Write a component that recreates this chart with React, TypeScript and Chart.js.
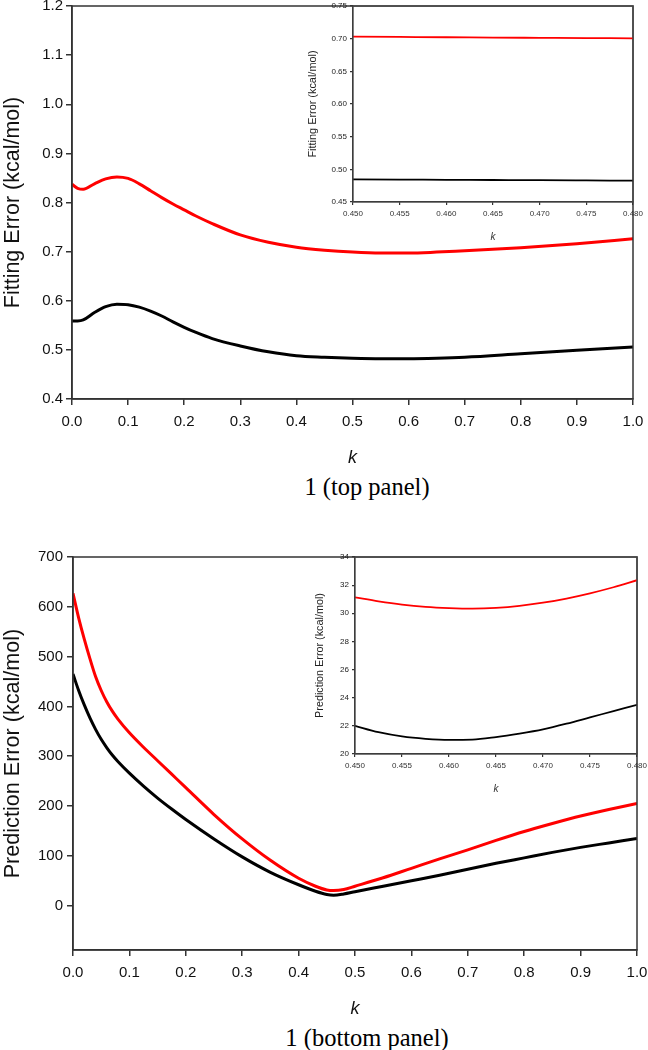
import React, { useEffect, useRef } from "react";
import { Chart, registerables } from "chart.js";

Chart.register(...registerables);

// ---------- DATA ----------
// Top panel (fitting error, kcal/mol)
const K_TOP = [0, 0.01, 0.02, 0.04, 0.06, 0.08, 0.1, 0.12, 0.14, 0.16, 0.18, 0.2, 0.22, 0.25, 0.3, 0.35, 0.4, 0.45, 0.5, 0.55, 0.6, 0.65, 0.7, 0.8, 0.9, 1.0];
const FIT_RED = [0.837, 0.829, 0.827, 0.838, 0.848, 0.852, 0.849, 0.838, 0.824, 0.81, 0.797, 0.785, 0.773, 0.757, 0.734, 0.719, 0.709, 0.703, 0.699, 0.697, 0.697, 0.699, 0.702, 0.708, 0.716, 0.726];
const FIT_BLACK = [0.559, 0.559, 0.561, 0.576, 0.588, 0.593, 0.592, 0.587, 0.579, 0.569, 0.557, 0.546, 0.536, 0.523, 0.508, 0.496, 0.488, 0.485, 0.483, 0.482, 0.482, 0.483, 0.485, 0.492, 0.499, 0.506];

// Top inset
const K_TOP_INSET = [0.45, 0.455, 0.46, 0.465, 0.47, 0.475, 0.48];
const FIT_RED_INSET = [0.703, 0.7026, 0.7022, 0.7017, 0.7013, 0.7009, 0.7005];
const FIT_BLACK_INSET = [0.4846, 0.4843, 0.484, 0.4837, 0.4834, 0.483, 0.4826];

// Bottom panel (prediction error, kcal/mol)
const K_BOT = [0, 0.01, 0.02, 0.03, 0.04, 0.05, 0.06, 0.07, 0.08, 0.1, 0.125, 0.15, 0.175, 0.2, 0.25, 0.3, 0.35, 0.4, 0.43, 0.45, 0.462, 0.48, 0.5, 0.55, 0.6, 0.65, 0.7, 0.75, 0.8, 0.85, 0.9, 0.95, 1.0];
const PRED_RED = [627, 578, 535, 496, 460, 432, 409, 390, 374, 347, 318, 291, 264, 237, 183, 134, 91, 55, 39, 31.5, 30.3, 32.4, 39, 56, 75, 94, 112, 131, 149, 165, 180, 193, 205];
const PRED_BLACK = [465, 432, 403, 377, 354, 334, 317, 302, 289, 266, 240, 216, 194, 173, 134, 98, 67, 42, 29, 22.5, 21, 23.5, 28, 39, 50, 61, 73, 85, 96, 107, 117, 126, 135];

// Bottom inset
const K_BOT_INSET = [0.45, 0.4525, 0.455, 0.4575, 0.46, 0.4625, 0.465, 0.4675, 0.47, 0.4725, 0.475, 0.4775, 0.48];
const PRED_RED_INSET = [31.13, 30.85, 30.62, 30.46, 30.37, 30.33, 30.38, 30.52, 30.75, 31.05, 31.42, 31.85, 32.35];
const PRED_BLACK_INSET = [22.0, 21.55, 21.25, 21.08, 21.0, 21.02, 21.2, 21.45, 21.75, 22.15, 22.6, 23.05, 23.5];

// Tick values
const X_TICKS_MAIN = [0, 0.1, 0.2, 0.3, 0.4, 0.5, 0.6, 0.7, 0.8, 0.9, 1.0];
const Y_TICKS_TOP = [0.4, 0.5, 0.6, 0.7, 0.8, 0.9, 1.0, 1.1, 1.2];
const X_TICKS_INSET = [0.45, 0.455, 0.46, 0.465, 0.47, 0.475, 0.48];
const Y_TICKS_TOP_INSET = [0.45, 0.5, 0.55, 0.6, 0.65, 0.7, 0.75];
const Y_TICKS_BOT = [0, 100, 200, 300, 400, 500, 600, 700];
const Y_TICKS_BOT_INSET = [20, 22, 24, 26, 28, 30, 32, 34];

// ---------- helpers ----------
const SANS = "'Liberation Sans', Arial, Helvetica, sans-serif";
const SERIF = "'Liberation Serif', 'Times New Roman', serif";

const framePlugin = {
  id: "frame",
  afterDatasetsDraw(chart: any, _args: any, opts: any) {
    const { ctx, chartArea: a } = chart;
    ctx.save();
    ctx.strokeStyle = opts.color || "#333";
    ctx.lineWidth = opts.width || 1.5;
    ctx.strokeRect(a.left, a.top, a.right - a.left, a.bottom - a.top);
    ctx.restore();
  },
};

const toPts = (xs: number[], ys: number[]) => xs.map((x, i) => ({ x, y: ys[i] }));

type AxisOpts = {
  min: number;
  max: number;
  ticks: number[];
  fmt: (v: number) => string;
  fontSize: number;
  tickLen: number;
  pad: number;
  title: string;
  titleSize: number;
  italic?: boolean;
  size: number;
  color: string;
  lineW: number;
};

function makeAxis(o: AxisOpts, horizontal: boolean) {
  return {
    type: "linear",
    min: o.min,
    max: o.max,
    afterBuildTicks: (s: any) => {
      s.ticks = o.ticks.map((v) => ({ value: v }));
    },
    afterFit: (s: any) => {
      if (horizontal) s.height = o.size;
      else s.width = o.size;
    },
    ticks: {
      callback: (v: any) => o.fmt(Number(v)),
      font: { family: SANS, size: o.fontSize },
      color: o.color,
      padding: o.pad,
      maxRotation: 0,
      minRotation: 0,
      autoSkip: false,
    },
    grid: {
      display: true,
      drawOnChartArea: false,
      drawTicks: true,
      tickLength: o.tickLen,
      color: "#333",
      lineWidth: o.lineW,
    },
    border: { display: true, color: "#333", width: o.lineW },
    title: {
      display: true,
      text: o.title,
      font: { family: SANS, size: o.titleSize, style: o.italic ? "italic" : "normal" },
      color: o.color,
      padding: 0,
    },
  };
}

function ChartBox(props: { left: number; top: number; width: number; height: number; config: () => any }) {
  const ref = useRef<HTMLCanvasElement | null>(null);
  useEffect(() => {
    if (!ref.current) return;
    const chart = new Chart(ref.current, props.config());
    return () => chart.destroy();
  }, []);
  return (
    <canvas
      ref={ref}
      width={props.width}
      height={props.height}
      style={{
        position: "absolute",
        left: props.left,
        top: props.top,
        width: props.width,
        height: props.height,
      }}
    />
  );
}

function lineConfig(opts: {
  red: { x: number; y: number }[];
  black: { x: number; y: number }[];
  lw: number;
  x: any;
  y: any;
  padding: any;
  frameColor: string;
  frameWidth: number;
}) {
  return {
    type: "line",
    data: {
      datasets: [
        {
          data: opts.black,
          borderColor: "#000000",
          borderWidth: opts.lw,
          pointRadius: 0,
          cubicInterpolationMode: "monotone",
          fill: false,
        },
        {
          data: opts.red,
          borderColor: "#ff0000",
          borderWidth: opts.lw,
          pointRadius: 0,
          cubicInterpolationMode: "monotone",
          fill: false,
        },
      ],
    },
    options: {
      responsive: false,
      animation: false,
      devicePixelRatio: 1,
      layout: { padding: opts.padding },
      plugins: {
        legend: { display: false },
        tooltip: { enabled: false },
        frame: { color: opts.frameColor, width: opts.frameWidth },
      },
      scales: { x: opts.x, y: opts.y },
    },
    plugins: [framePlugin],
  };
}

const fmt1 = (v: number) => v.toFixed(1);
const fmt2 = (v: number) => v.toFixed(2);
const fmt3 = (v: number) => v.toFixed(3);
const fmt0 = (v: number) => v.toFixed(0);

export default function App() {
  const topMain = () =>
    lineConfig({
      red: toPts(K_TOP, FIT_RED),
      black: toPts(K_TOP, FIT_BLACK),
      lw: 3,
      padding: { left: 0, top: 18, right: 37, bottom: 0 },
      frameColor: "#333",
      frameWidth: 1.5,
      x: makeAxis(
        { min: 0, max: 1, ticks: X_TICKS_MAIN, fmt: fmt1, fontSize: 15, tickLen: 6, pad: 8, title: "k", titleSize: 18, italic: true, size: 70, color: "#111", lineW: 1.5 },
        true
      ),
      y: makeAxis(
        { min: 0.4, max: 1.2, ticks: Y_TICKS_TOP, fmt: fmt1, fontSize: 15, tickLen: 6, pad: 3, title: "Fitting Error (kcal/mol)", titleSize: 21.5, size: 72, color: "#111", lineW: 1.5 },
        false
      ),
    });

  const topInset = () =>
    lineConfig({
      red: toPts(K_TOP_INSET, FIT_RED_INSET),
      black: toPts(K_TOP_INSET, FIT_BLACK_INSET),
      lw: 1.8,
      padding: { left: 6, top: 16, right: 37, bottom: 0 },
      frameColor: "#444",
      frameWidth: 1.2,
      x: makeAxis(
        { min: 0.45, max: 0.48, ticks: X_TICKS_INSET, fmt: fmt3, fontSize: 8, tickLen: 3, pad: 3.5, title: "k", titleSize: 10, italic: true, size: 41, color: "#333", lineW: 1.2 },
        true
      ),
      y: makeAxis(
        { min: 0.45, max: 0.75, ticks: Y_TICKS_TOP_INSET, fmt: fmt2, fontSize: 8, tickLen: 3, pad: 3, title: "Fitting Error (kcal/mol)", titleSize: 10.9, size: 47, color: "#222", lineW: 1.2 },
        false
      ),
    });

  const botMain = () =>
    lineConfig({
      red: toPts(K_BOT, PRED_RED),
      black: toPts(K_BOT, PRED_BLACK),
      lw: 3,
      padding: { left: 0, top: 17, right: 33, bottom: 0 },
      frameColor: "#333",
      frameWidth: 1.5,
      x: makeAxis(
        { min: 0, max: 1, ticks: X_TICKS_MAIN, fmt: fmt1, fontSize: 15, tickLen: 6, pad: 8, title: "k", titleSize: 18, italic: true, size: 70, color: "#111", lineW: 1.5 },
        true
      ),
      y: makeAxis(
        { min: -89, max: 700, ticks: Y_TICKS_BOT, fmt: fmt0, fontSize: 15, tickLen: 6, pad: 4, title: "Prediction Error (kcal/mol)", titleSize: 21.6, size: 73, color: "#111", lineW: 1.5 },
        false
      ),
    });

  const botInset = () =>
    lineConfig({
      red: toPts(K_BOT_INSET, PRED_RED_INSET),
      black: toPts(K_BOT_INSET, PRED_BLACK_INSET),
      lw: 1.8,
      padding: { left: 14, top: 17, right: 33, bottom: 0 },
      frameColor: "#444",
      frameWidth: 1.2,
      x: makeAxis(
        { min: 0.45, max: 0.48, ticks: X_TICKS_INSET, fmt: fmt3, fontSize: 8, tickLen: 3, pad: 3.5, title: "k", titleSize: 10, italic: true, size: 41, color: "#333", lineW: 1.2 },
        true
      ),
      y: makeAxis(
        { min: 20, max: 34, ticks: Y_TICKS_BOT_INSET, fmt: fmt0, fontSize: 8, tickLen: 3, pad: 3, title: "Prediction Error (kcal/mol)", titleSize: 10.8, size: 41, color: "#222", lineW: 1.2 },
        false
      ),
    });

  const caption = (text: string, centerY: number) => (
    <div
      style={{
        position: "absolute",
        left: 167,
        width: 400,
        top: centerY - 14,
        height: 28,
        lineHeight: "28px",
        textAlign: "center",
        fontFamily: SERIF,
        fontSize: "24.5px",
        color: "#000",
        whiteSpace: "nowrap",
      }}
    >
      {text}
    </div>
  );

  return (
    <div
      style={{
        position: "absolute",
        left: 0,
        top: 0,
        width: 648,
        height: 1050,
        overflow: "hidden",
        background: "#fff",
      }}
    >
      <ChartBox left={0} top={-12} width={670} height={481} config={topMain} />
      <ChartBox left={300} top={-10} width={370} height={253} config={topInset} />
      {caption("1 (top panel)", 487)}
      <ChartBox left={0} top={540} width={670} height={480} config={botMain} />
      <ChartBox left={300} top={540} width={370} height={255} config={botInset} />
      {caption("1 (bottom panel)", 1038)}
    </div>
  );
}
